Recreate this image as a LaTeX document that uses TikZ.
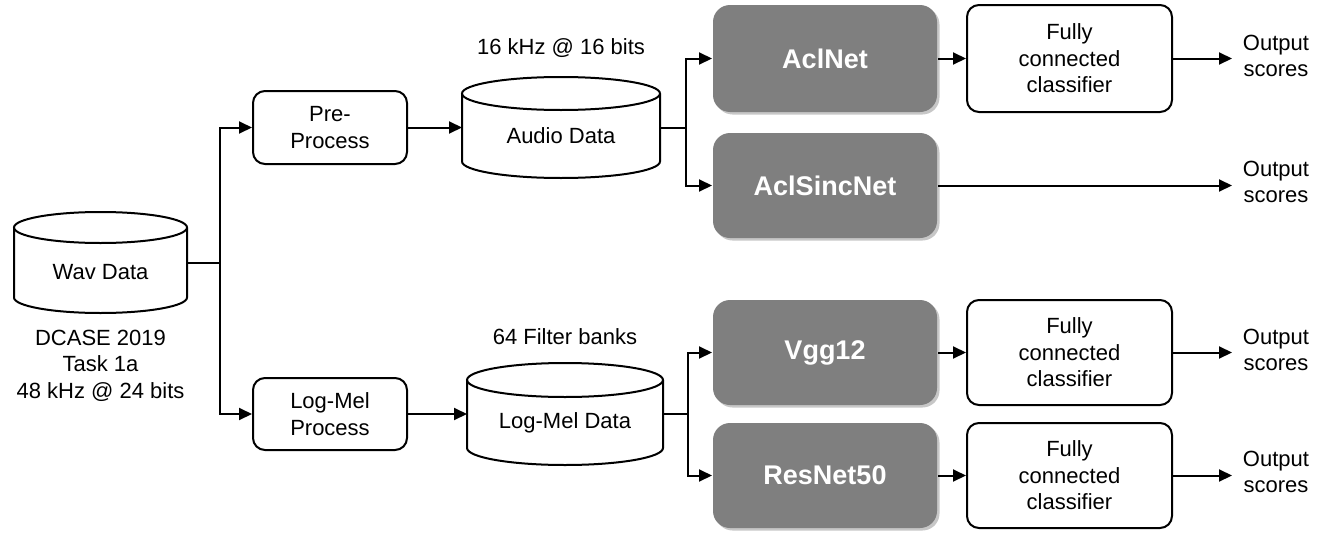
\documentclass[tikz,border=0pt]{standalone}
\usepackage{fontspec}
\setmainfont{Liberation Sans}
\usetikzlibrary{arrows.meta,shadows}
\definecolor{boxgray}{RGB}{127,127,127}
\newcommand\mycyl[2]{% node name, ellipse half height (pt)
  \draw[fill=white] ([yshift=-#2pt]#1.north west) -- ([yshift=#2pt]#1.south west)
     arc[start angle=180,end angle=360,x radius={0.5*\pgfkeysvalueof{/cylw}},y radius=#2pt]
     -- ([yshift=-#2pt]#1.north east);
  \draw ([yshift=-#2pt]#1.north) ellipse[x radius={0.5*\pgfkeysvalueof{/cylw}},y radius=#2pt];
}
\pgfkeys{/cylw/.initial=100pt}
\begin{document}
\begin{tikzpicture}[x=1pt,y=-1pt,
  line width=2pt,
  arr/.style={-{Triangle[length=13pt,width=12pt]}},
  wbox/.style={draw,rounded corners=12pt,fill=white,align=center,
    font=\fontsize{22}{26.5}\selectfont,inner sep=0pt},
  gbox/.style={fill=boxgray,rounded corners=17pt,text=white,inner sep=0pt,
    font=\fontsize{27}{32}\selectfont\bfseries,
    drop shadow={shadow xshift=2.5pt,shadow yshift=-2.5pt,fill=black,opacity=0.22}},
  txt/.style={align=center,font=\fontsize{22}{26.5}\selectfont,inner sep=0pt},
  ghost/.style={inner sep=0pt,outer sep=0pt,draw=none}
]
\useasboundingbox[fill=white] (0,0) rectangle (1323,533);

% Wav data
\node[ghost,minimum width=173pt,minimum height=101pt] (wav) at (100.5,262.5) {};
\pgfkeys{/cylw=173pt}\mycyl{wav}{15.5}
\node[txt] (wavt) at (100.5,272) {Wav Data};
\node[txt] (wavl) at (100.5,365.5) {DCASE 2019\\Task 1a\\48 kHz @ 24 bits};

% process boxes
\node[wbox,minimum width=154pt,minimum height=73pt] (pre) at (330,127.5) {Pre-\\Process};
\node[wbox,minimum width=154pt,minimum height=72pt] (lmp) at (330,414) {Log-Mel\\Process};

% Audio data
\node[ghost,minimum width=198pt,minimum height=101pt] (aud) at (561,127.5) {};
\pgfkeys{/cylw=198pt}\mycyl{aud}{16.5}
\node[txt] (audt) at (561,136) {Audio Data};
\node[txt] (audl) at (561,48) {16 kHz @ 16 bits};

% Log-Mel data
\node[ghost,minimum width=196pt,minimum height=102pt] (lmd) at (565,414) {};
\pgfkeys{/cylw=196pt}\mycyl{lmd}{17}
\node[txt] (lmdt) at (565,423) {Log-Mel Data};
\node[txt] (lmdl) at (565,337) {64 Filter banks};

% networks
\node[gbox,minimum width=224pt,minimum height=107pt] (acl) at (825,58.5) {AclNet};
\node[gbox,minimum width=224pt,minimum height=105pt] (sinc) at (825,185.5) {AclSincNet};
\node[gbox,minimum width=224pt,minimum height=105pt] (vgg) at (825,352.5) {Vgg12};
\node[gbox,minimum width=224pt,minimum height=105pt] (res) at (825,475.5) {ResNet50};

% classifiers
\node[wbox,minimum width=205pt,minimum height=107pt] (fc1) at (1069.5,58.5) {Fully\\connected\\classifier};
\node[wbox,minimum width=205pt,minimum height=105pt] (fc3) at (1069.5,352.5) {Fully\\connected\\classifier};
\node[wbox,minimum width=205pt,minimum height=105pt] (fc4) at (1069.5,475.5) {Fully\\connected\\classifier};

% outputs
\coordinate (o1) at (1232,58.5);
\coordinate (o2) at (1232,185.5);
\coordinate (o3) at (1232,352.5);
\coordinate (o4) at (1232,475.5);
\node[txt] (out1) at (1276,56) {Output\\scores};
\node[txt] (out2) at (1276,182) {Output\\scores};
\node[txt] (out3) at (1276,350) {Output\\scores};
\node[txt] (out4) at (1276,472) {Output\\scores};

% connectors
\coordinate (j1) at (220,262.5);
\draw (wav.east) -- (j1);
\draw[arr] (j1) |- (pre.west);
\draw[arr] (j1) |- (lmp.west);
\draw[arr] (pre.east) -- (aud.west);
\draw[arr] (lmp.east) -- (lmd.west);
\coordinate (j2) at (686,127.5);
\draw (aud.east) -- (j2);
\draw[arr] (j2) |- (acl.west);
\draw[arr] (j2) |- (sinc.west);
\coordinate (j3) at (688,414);
\draw (lmd.east) -- (j3);
\draw[arr] (j3) |- (vgg.west);
\draw[arr] (j3) |- (res.west);
\draw[arr] (acl.east) -- (fc1.west);
\draw[arr] (vgg.east) -- (fc3.west);
\draw[arr] (res.east) -- (fc4.west);
\draw[arr] (fc1.east) -- (o1);
\draw[arr] (sinc.east) -- (o2);
\draw[arr] (fc3.east) -- (o3);
\draw[arr] (fc4.east) -- (o4);
\end{tikzpicture}
\end{document}
